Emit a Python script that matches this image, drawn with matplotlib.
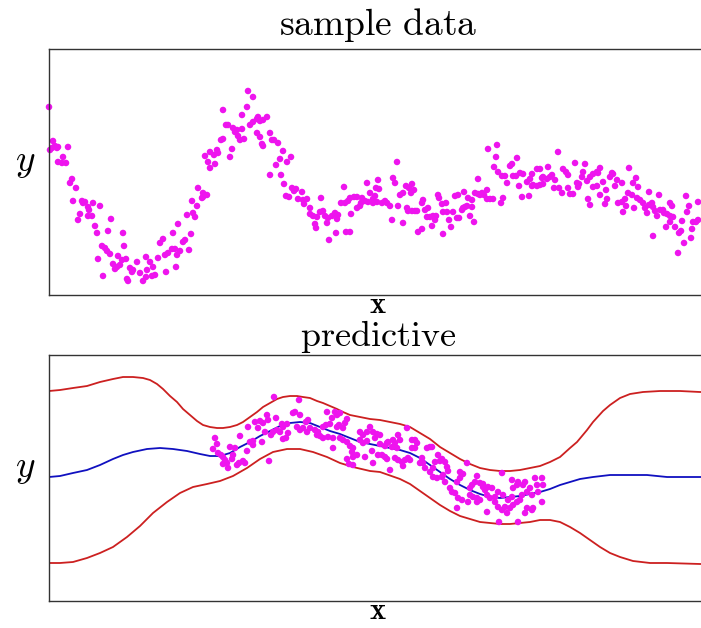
import matplotlib
matplotlib.use('Agg')
import matplotlib.pyplot as plt

plt.rcParams['mathtext.fontset'] = 'cm'
plt.rcParams['axes.linewidth'] = 1.0

# top panel: noisy sample data, (x, y) pairs
sample_pts = [
    (0, 188), (4, 154), (1, 145), (3, 147), (6, 149), (9, 148), (8, 147), (19, 148),
    (14, 138), (9, 133), (13, 132), (17, 132), (23, 116), (21, 112), (27, 107), (24, 94),
    (33, 94), (34, 92), (36, 93), (44, 92), (39, 88), (40, 85), (51, 89), (31, 81),
    (29, 75), (39, 79), (43, 79), (46, 69), (62, 76), (48, 62), (59, 64), (74, 62),
    (53, 49), (56, 47), (58, 44), (75, 49), (61, 41), (49, 36), (69, 39), (73, 35),
    (77, 36), (64, 31), (68, 28), (71, 30), (66, 26), (81, 27), (84, 25), (83, 23),
    (88, 33), (91, 22), (54, 19), (78, 16), (79, 14), (94, 14), (97, 18), (97, 38),
    (101, 33), (98, 25), (104, 28), (106, 20), (103, 19), (109, 37), (117, 23), (116, 40),
    (119, 42), (111, 52), (114, 56), (123, 46), (126, 46), (127, 28), (124, 62), (129, 71),
    (131, 44), (128, 40), (134, 53), (136, 55), (140, 45), (142, 61), (138, 80), (144, 82),
    (146, 78), (143, 94), (148, 89), (149, 107), (154, 102), (154, 98), (158, 100), (153, 97),
    (156, 139), (161, 143), (165, 140), (168, 145), (169, 142), (159, 133), (161, 127),
    (166, 131), (172, 155), (174, 156), (174, 185), (177, 170), (179, 170), (181, 138),
    (183, 146), (184, 167), (186, 163), (188, 165), (189, 159), (191, 155), (195, 156),
    (193, 166), (193, 180), (198, 188), (199, 204), (204, 198), (201, 170), (204, 173),
    (208, 176), (211, 174), (209, 178), (214, 175), (218, 178), (208, 162), (213, 151),
    (214, 149), (221, 120), (211, 158), (221, 162), (223, 155), (225, 155), (229, 152),
    (234, 144), (231, 136), (242, 138), (238, 133), (227, 130), (232, 120), (235, 111),
    (243, 107), (247, 106), (245, 104), (253, 103), (237, 99), (240, 98), (249, 96),
    (254, 95), (258, 96), (255, 91), (261, 87), (272, 97), (261, 81), (264, 79), (268, 78),
    (271, 83), (274, 84), (276, 79), (279, 77), (283, 79), (286, 82), (289, 80), (288, 76),
    (266, 71), (267, 67), (278, 72), (287, 62), (280, 55), (297, 63), (301, 63), (295, 108),
    (292, 92), (296, 92), (299, 94), (301, 97), (305, 98), (308, 98), (313, 97), (316, 94),
    (319, 93), (324, 92), (328, 93), (324, 96), (302, 81), (308, 87), (311, 89), (312, 92),
    (318, 112), (321, 102), (326, 99), (327, 107), (330, 106), (329, 115), (333, 92),
    (336, 94), (338, 92), (341, 89), (343, 75), (344, 117), (346, 112), (348, 133),
    (349, 89), (351, 100), (354, 102), (354, 72), (357, 109), (360, 107), (363, 111),
    (358, 87), (359, 84), (363, 84), (366, 84), (368, 84), (362, 102), (365, 105),
    (369, 63), (373, 66), (373, 92), (374, 95), (376, 85), (379, 87), (378, 78), (381, 78),
    (384, 79), (383, 69), (386, 75), (387, 79), (389, 100), (390, 97), (393, 91), (397, 92),
    (394, 83), (398, 83), (394, 61), (400, 75), (402, 68), (404, 83), (406, 99), (409, 100),
    (408, 77), (410, 77), (413, 85), (414, 87), (416, 88), (418, 89), (415, 103), (419, 97),
    (423, 95), (421, 79), (425, 73), (423, 88), (426, 102), (429, 101), (431, 100),
    (433, 102), (429, 116), (438, 96), (439, 146), (438, 105), (448, 150), (447, 138),
    (435, 100), (441, 96), (444, 96), (452, 92), (454, 97), (445, 128), (449, 123),
    (453, 119), (456, 119), (458, 112), (461, 129), (463, 131), (464, 119), (468, 137),
    (467, 119), (470, 109), (471, 122), (474, 121), (473, 98), (480, 99), (478, 113),
    (481, 116), (483, 109), (484, 110), (488, 109), (491, 110), (494, 111), (483, 121),
    (488, 126), (491, 126), (493, 117), (494, 118), (498, 116), (501, 118), (503, 120),
    (506, 115), (499, 128), (505, 107), (510, 107), (509, 143), (513, 102), (514, 126),
    (517, 123), (519, 120), (519, 107), (521, 101), (524, 101), (526, 132), (528, 112),
    (530, 111), (529, 108), (533, 118), (534, 123), (536, 131), (538, 114), (539, 96),
    (541, 90), (541, 118), (544, 121), (548, 123), (549, 122), (551, 127), (544, 108),
    (548, 109), (551, 100), (554, 113), (556, 91), (558, 96), (557, 105), (561, 118),
    (563, 122), (564, 121), (566, 109), (568, 115), (573, 112), (569, 92), (573, 93),
    (576, 96), (574, 83), (577, 89), (580, 127), (579, 102), (583, 100), (584, 112),
    (587, 117), (589, 108), (585, 87), (588, 97), (591, 95), (594, 92), (596, 87), (598, 82),
    (600, 90), (603, 92), (604, 88), (606, 84), (608, 79), (600, 103), (604, 59), (610, 100),
    (611, 85), (614, 85), (615, 82), (618, 81), (621, 79), (617, 68), (621, 73), (624, 78),
    (621, 92), (623, 89), (626, 68), (630, 62), (632, 64), (629, 42), (633, 74), (635, 52),
    (637, 99), (638, 83), (640, 89), (642, 57), (643, 66), (644, 73), (647, 73), (649, 75),
    (649, 93),
]

# bottom panel: training points
train_pts = [
    (225, 204), (250, 201), (166, 163), (168, 157), (164, 152), (169, 148), (172, 146),
    (174, 144), (176, 141), (178, 138), (174, 137), (181, 154), (186, 153), (184, 146),
    (183, 142), (179, 133), (188, 136), (190, 138), (194, 140), (196, 138), (191, 165),
    (198, 150), (201, 159), (204, 156), (204, 160), (199, 174), (206, 179), (211, 180),
    (214, 178), (209, 173), (218, 186), (219, 181), (216, 169), (213, 159), (220, 140),
    (222, 166), (224, 169), (227, 183), (228, 171), (231, 169), (233, 177), (234, 174),
    (234, 162), (237, 163), (239, 168), (238, 177), (244, 188), (246, 189), (251, 186),
    (248, 174), (251, 171), (254, 173), (257, 179), (259, 181), (261, 173), (258, 169),
    (266, 171), (268, 166), (269, 169), (271, 165), (274, 163), (274, 174), (277, 176),
    (281, 177), (278, 189), (283, 183), (286, 189), (288, 186), (291, 188), (279, 164),
    (284, 163), (284, 153), (288, 174), (290, 176), (294, 173), (298, 182), (296, 178),
    (291, 163), (294, 161), (298, 159), (301, 155), (304, 153), (303, 149), (304, 144),
    (308, 146), (298, 142), (300, 137), (311, 169), (314, 166), (318, 169), (321, 174),
    (324, 169), (328, 167), (311, 161), (314, 158), (318, 160), (316, 144), (323, 150),
    (324, 138), (329, 146), (304, 136), (331, 166), (326, 163), (331, 157), (336, 155),
    (338, 158), (339, 159), (333, 146), (336, 144), (338, 142), (341, 131), (343, 154),
    (344, 161), (346, 158), (349, 166), (351, 161), (348, 153), (346, 143), (349, 141),
    (353, 139), (354, 135), (356, 141), (359, 143), (361, 141), (358, 173), (363, 153),
    (366, 153), (368, 158), (366, 161), (363, 161), (373, 143), (374, 138), (371, 138),
    (376, 133), (381, 129), (384, 133), (378, 153), (381, 154), (383, 154), (386, 139),
    (389, 146), (391, 140), (393, 142), (396, 139), (384, 124), (388, 123), (393, 124),
    (394, 126), (398, 134), (399, 130), (396, 119), (401, 113), (403, 109), (408, 119),
    (411, 123), (414, 127), (406, 108), (409, 103), (413, 101), (408, 93), (411, 129),
    (418, 138), (421, 113), (423, 116), (426, 119), (428, 125), (431, 118), (434, 117),
    (434, 114), (421, 106), (424, 104), (428, 103), (431, 101), (419, 99), (428, 99),
    (436, 111), (439, 114), (443, 113), (438, 106), (441, 103), (446, 104), (438, 89),
    (449, 109), (453, 128), (454, 106), (446, 99), (449, 94), (453, 91), (456, 94),
    (450, 79), (459, 101), (463, 104), (464, 113), (468, 116), (469, 119), (463, 121),
    (458, 88), (461, 93), (464, 96), (468, 99), (471, 101), (469, 79), (473, 106),
    (474, 116), (476, 119), (478, 109), (481, 113), (476, 88), (478, 93), (483, 91),
    (484, 93), (486, 123), (488, 116), (493, 123), (494, 116), (483, 106), (489, 109),
    (493, 99),
]

# predictive mean and +/- 2 sd bands
upper_pts = [
    (0, 210), (11, 211), (24, 213), (38, 215), (51, 219), (64, 222), (74, 224), (84, 224),
    (94, 223), (101, 221), (108, 217), (114, 212), (121, 205), (128, 199), (134, 192),
    (141, 186), (148, 180), (154, 176), (161, 174), (168, 173), (174, 173), (181, 174),
    (188, 176), (194, 179), (201, 184), (208, 189), (214, 194), (221, 198), (228, 202),
    (234, 204), (241, 205), (248, 205), (254, 204), (261, 203), (268, 200), (274, 198),
    (281, 195), (288, 192), (294, 189), (301, 186), (311, 184), (321, 182), (331, 181),
    (351, 177), (361, 174), (371, 168), (381, 162), (391, 154), (401, 148), (411, 142),
    (421, 137), (431, 133), (441, 131), (451, 130), (461, 130), (471, 131), (481, 133),
    (491, 135), (501, 139), (511, 144), (521, 153), (528, 159), (538, 171), (544, 179),
    (554, 190), (561, 196), (571, 203), (581, 207), (594, 209), (611, 210), (631, 210),
    (651, 209), (660, 209),
]
mean_pts = [
    (0, 124), (11, 125), (24, 128), (38, 131), (51, 136), (64, 142), (74, 146), (84, 149),
    (98, 152), (111, 153), (124, 152), (138, 150), (151, 147), (161, 145), (171, 145),
    (181, 148), (191, 154), (201, 159), (211, 165), (221, 170), (231, 175), (241, 178),
    (251, 179), (261, 178), (271, 174), (281, 170), (291, 167), (301, 163), (311, 159),
    (321, 157), (331, 155), (351, 151), (361, 148), (371, 143), (381, 136), (391, 129),
    (401, 122), (411, 116), (421, 111), (431, 107), (441, 104), (451, 103), (461, 104),
    (471, 105), (481, 107), (491, 109), (501, 112), (511, 116), (521, 119), (531, 122),
    (544, 124), (561, 126), (578, 126), (598, 126), (618, 124), (651, 124), (660, 124),
]
lower_pts = [
    (0, 38), (11, 38), (24, 39), (38, 43), (51, 48), (64, 54), (78, 64), (91, 75),
    (104, 88), (118, 99), (131, 108), (144, 114), (158, 117), (171, 120), (184, 125),
    (198, 133), (211, 142), (224, 149), (238, 152), (251, 152), (264, 149), (278, 144),
    (291, 138), (304, 134), (321, 130), (331, 129), (351, 122), (361, 117), (371, 110),
    (381, 103), (391, 96), (401, 90), (411, 85), (421, 82), (431, 79), (441, 78),
    (451, 77), (461, 77), (471, 78), (481, 79), (491, 81), (501, 81), (511, 79),
    (521, 74), (531, 68), (541, 61), (551, 54), (561, 48), (571, 44), (584, 40),
    (601, 38), (618, 38), (651, 37), (660, 37),
]

pink = '#ee14ee'
red = '#cc2020'
blue = '#1010c0'

fig = plt.figure(figsize=(7.01, 6.28), dpi=100)
ax1 = fig.add_axes([0.0699, 0.5303, 0.9387, 0.3917])
ax2 = fig.add_axes([0.0699, 0.0430, 0.9387, 0.3917])

sx, sy = zip(*sample_pts)
ax1.scatter(sx, sy, s=22, color=pink, edgecolors='none', clip_on=False)
ax1.set_xlim(0, 658)
ax1.set_ylim(0, 246)
ax1.set_title(r'$\mathrm{sample\ data}$', fontsize=27, pad=10)

for pts, col in ((upper_pts, red), (lower_pts, red), (mean_pts, blue)):
    cx, cy = zip(*pts)
    ax2.plot(cx, cy, color=col, lw=1.3)
tx, ty = zip(*train_pts)
ax2.scatter(tx, ty, s=22, color=pink, edgecolors='none', zorder=3)
ax2.set_xlim(0, 658)
ax2.set_ylim(0, 246)
ax2.set_title(r'$\mathrm{predictive}$', fontsize=26, pad=6)

for ax in (ax1, ax2):
    ax.set_xticks([])
    ax.set_yticks([])
    for s in ax.spines.values():
        s.set_color('#333333')
    ax.set_xlabel(r'$\mathbf{x}$', fontsize=22, va='center')
    ax.set_ylabel(r'$y$', fontsize=27, rotation=0, va='center', ha='center')
    ax.yaxis.set_label_coords(-0.036, 0.54)
    ax.xaxis.set_label_coords(0.5, -0.038)

fig.savefig('out.png', dpi=100)
